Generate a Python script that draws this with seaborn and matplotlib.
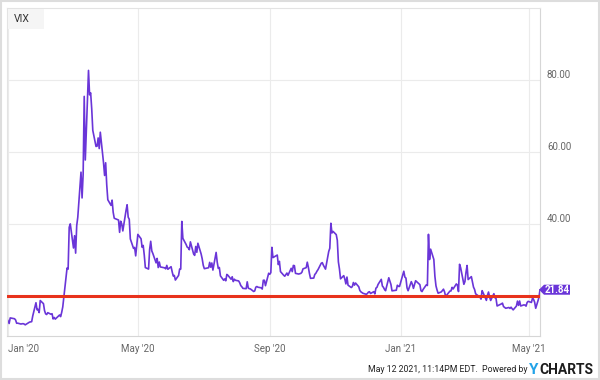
import seaborn as sns
import matplotlib.pyplot as plt
import matplotlib.dates as mdates
from matplotlib.patches import Rectangle, Polygon
from matplotlib.transforms import IdentityTransform
import pandas as pd

# VIX daily closes (Dec 31 2019 .. May 11 2021)
vix_dec19 = [13.78]
vix_jan20 = [12.47, 14.02, 13.85, 13.79, 13.45, 12.54, 12.56, 12.32, 12.39, 12.42, 12.32,
             12.10, 12.85, 12.91, 12.98, 14.56, 18.23, 16.28, 16.39, 15.49, 18.84]
vix_feb20 = [17.97, 16.05, 15.15, 14.96, 15.47, 15.04, 15.18, 13.74, 14.15, 13.68, 14.83,
             14.38, 15.56, 17.08, 25.03, 27.85, 27.56, 39.16, 40.11]
vix_mar20 = [33.42, 36.82, 31.99, 39.62, 41.94, 54.46, 47.30, 53.90, 75.47, 57.83, 82.69,
             75.91, 76.45, 72.00, 66.04, 61.59, 61.67, 63.95, 61.00, 65.54, 57.08, 53.54]
vix_apr20 = [57.06, 50.91, 46.80, 45.24, 46.70, 43.35, 41.67, 41.17, 37.76, 40.84, 40.11,
             38.15, 43.83, 45.41, 41.98, 41.38, 35.93, 33.29, 33.57, 31.23, 34.15]
vix_may20 = [37.19, 35.97, 33.61, 34.12, 31.44, 27.98, 27.57, 33.04, 35.28, 32.61, 31.89,
             29.30, 30.53, 27.99, 29.53, 28.16, 27.91, 27.62, 28.59, 27.51]
vix_jun20 = [28.23, 26.84, 25.66, 25.81, 24.52, 25.81, 27.57, 27.57, 40.79, 36.09, 34.40,
             33.67, 33.47, 32.94, 35.12, 31.77, 31.37, 33.84, 32.22, 34.73, 31.78, 30.43]
vix_jul20 = [28.62, 27.68, 27.94, 29.43, 28.08, 29.26, 27.29, 32.19, 29.52, 27.76, 28.00,
             25.68, 24.46, 24.84, 24.32, 26.08, 25.84, 24.74, 25.44, 24.10, 24.76, 24.46]
vix_aug20 = [24.28, 23.76, 22.99, 22.65, 22.21, 22.13, 24.03, 22.28, 22.13, 22.05, 21.35,
             21.51, 22.54, 22.72, 22.54, 22.37, 22.03, 24.47, 24.47, 22.96, 26.41]
vix_sep20 = [26.12, 26.57, 33.60, 30.75, 31.46, 28.81, 29.71, 26.87, 25.85, 25.59, 26.04,
             26.46, 25.83, 27.78, 26.86, 28.58, 28.51, 26.38, 26.19, 26.27, 26.37]
vix_oct20 = [26.70, 27.63, 27.96, 29.48, 28.06, 26.36, 25.00, 25.07, 26.07, 26.40, 26.97,
             27.41, 29.18, 29.35, 28.65, 28.11, 27.55, 32.46, 33.35, 40.28, 37.59, 38.02]
vix_nov20 = [37.13, 35.55, 29.57, 27.58, 24.86, 25.75, 24.80, 23.45, 25.35, 23.10, 22.45,
             22.71, 23.84, 23.11, 23.70, 22.66, 21.64, 21.25, 20.84, 20.57]
vix_dec20 = [20.77, 21.17, 21.28, 20.79, 21.30, 20.68, 22.27, 22.52, 23.31, 24.72, 22.89,
             22.50, 21.93, 21.57, 25.16, 24.23, 23.31, 21.53, 21.70, 23.08, 22.77, 22.75]
vix_jan21 = [26.97, 25.34, 25.07, 22.37, 21.56, 24.08, 23.33, 22.21, 23.25, 24.34, 23.24,
             21.58, 21.32, 21.91, 23.19, 23.02, 37.21, 30.21, 33.09]
vix_feb21 = [30.24, 25.56, 22.91, 21.77, 20.87, 21.24, 21.63, 21.99, 21.25, 19.97, 21.46,
             21.50, 22.49, 22.05, 23.45, 23.11, 21.34, 28.89, 27.95]
vix_mar21 = [23.35, 24.10, 26.67, 28.57, 24.66, 25.47, 24.03, 22.56, 21.91, 20.69, 20.03,
             19.79, 19.23, 21.58, 20.95, 18.88, 20.30, 21.20, 19.81, 18.86, 20.74, 19.61, 19.40]
vix_apr21 = [17.33, 17.91, 18.12, 17.16, 16.95, 16.69, 16.91, 16.65, 16.99, 16.57, 16.25,
             17.30, 18.68, 17.50, 18.71, 17.33, 17.64, 17.56, 17.28, 18.31, 18.61]
vix_may21 = [18.31, 19.48, 19.15, 18.39, 16.69, 19.66, 21.84]

market_holidays = ["2020-01-01", "2020-01-20", "2020-02-17", "2020-04-10", "2020-05-25",
                   "2020-07-03", "2020-09-07", "2020-11-26", "2020-12-25", "2021-01-01",
                   "2021-01-18", "2021-02-15", "2021-04-02"]
reference_level = 20
tick_dates = ["2020-01-01", "2020-05-01", "2020-09-01", "2021-01-01", "2021-05-01"]
tick_labels = ["Jan '20", "May '20", "Sep '20", "Jan '21", "May '21"]
y_ticks = [20, 40, 60, 80]
y_labels = ["", "40.00", "60.00", "80.00"]

values = (vix_dec19 + vix_jan20 + vix_feb20 + vix_mar20 + vix_apr20 + vix_may20 + vix_jun20
          + vix_jul20 + vix_aug20 + vix_sep20 + vix_oct20 + vix_nov20 + vix_dec20
          + vix_jan21 + vix_feb21 + vix_mar21 + vix_apr21 + vix_may21)
dates = pd.bdate_range("2019-12-31", "2021-05-11", freq="C", holidays=market_holidays)
df = pd.DataFrame({"date": dates, "vix": values})

sns.set_style("white")
plt.rcParams["font.family"] = ["Roboto", "DejaVu Sans"]

fig = plt.figure(figsize=(6, 3.8), dpi=100)
ax = fig.add_axes([7 / 600, 44 / 380, 533 / 600, 328 / 380])

sns.lineplot(data=df, x="date", y="vix", ax=ax, color="#6a35d8", linewidth=1.2)
ax.axhline(reference_level, color="#e8321c", linewidth=2.2, zorder=3)

ax.set_xlim(df["date"].iloc[0], df["date"].iloc[-1])
ax.set_ylim(9, 100)
ax.set_xlabel("")
ax.set_ylabel("")

ax.set_xticks(pd.to_datetime(tick_dates))
ax.set_xticklabels(tick_labels)
ax.yaxis.tick_right()
ax.set_yticks(y_ticks)
ax.set_yticklabels(y_labels)
ax.tick_params(axis="both", length=0, labelsize=7, labelcolor="#666666")
ax.tick_params(axis="x", pad=6)
ax.tick_params(axis="y", pad=5)
for lbl in ax.get_yticklabels():
    lbl.set_verticalalignment("bottom")
ax.get_xticklabels()[0].set_horizontalalignment("left")

ax.grid(True, color="#ebebeb", linewidth=0.8)
for side, sp in ax.spines.items():
    sp.set_visible(True)
    sp.set_color("#e3e3e3" if side in ("top", "left") else "#d6d6d6")
    sp.set_linewidth(0.8)

# series label box in the corner
ax.add_patch(Rectangle((0.002, 0.935), 0.068, 0.062, transform=ax.transAxes,
                       facecolor="#f5f5f5", edgecolor="none", zorder=4))
ax.text(0.012, 0.965, "VIX", transform=ax.transAxes, fontsize=7.5, color="#333333",
        va="center", ha="left", zorder=5)

# outer frame
fig.add_artist(Rectangle((0.001, 0.002), 0.997, 0.996, transform=fig.transFigure,
                         fill=False, edgecolor="#dddddd", linewidth=1.5))

fig.canvas.draw()
renderer = fig.canvas.get_renderer()

# last value tag
px, py = ax.transData.transform((mdates.date2num(df["date"].iloc[-1]), df["vix"].iloc[-1]))
px -= 1
tag = Polygon([(px, py), (px + 5, py + 5), (px + 31, py + 5), (px + 31, py - 5),
               (px + 5, py - 5)], closed=True, transform=IdentityTransform(),
              facecolor="#6a35d8", edgecolor="none", clip_on=False)
fig.add_artist(tag)
fig.text(px + 18, py, f"{df['vix'].iloc[-1]:.2f}", transform=IdentityTransform(),
         color="white", fontsize=7, fontweight="bold", ha="center", va="center")

# footer
fy = 10 / 380
t_charts = fig.text(593 / 600, fy, "CHARTS", fontsize=10, fontweight="bold",
                    color="#1d1d1d", ha="right", va="center")
bb = t_charts.get_window_extent(renderer)
t_y = fig.text(bb.x0 / 600 - 0.001, fy, "Y", fontsize=11, fontweight="bold",
               color="#22a3e8", ha="right", va="center")
bb = t_y.get_window_extent(renderer)
fig.text(bb.x0 / 600 - 0.002, fy, "May 12 2021, 11:14PM EDT.  Powered by", fontsize=6.3,
         color="#222222", ha="right", va="center")

fig.savefig("out.png", dpi=100)
